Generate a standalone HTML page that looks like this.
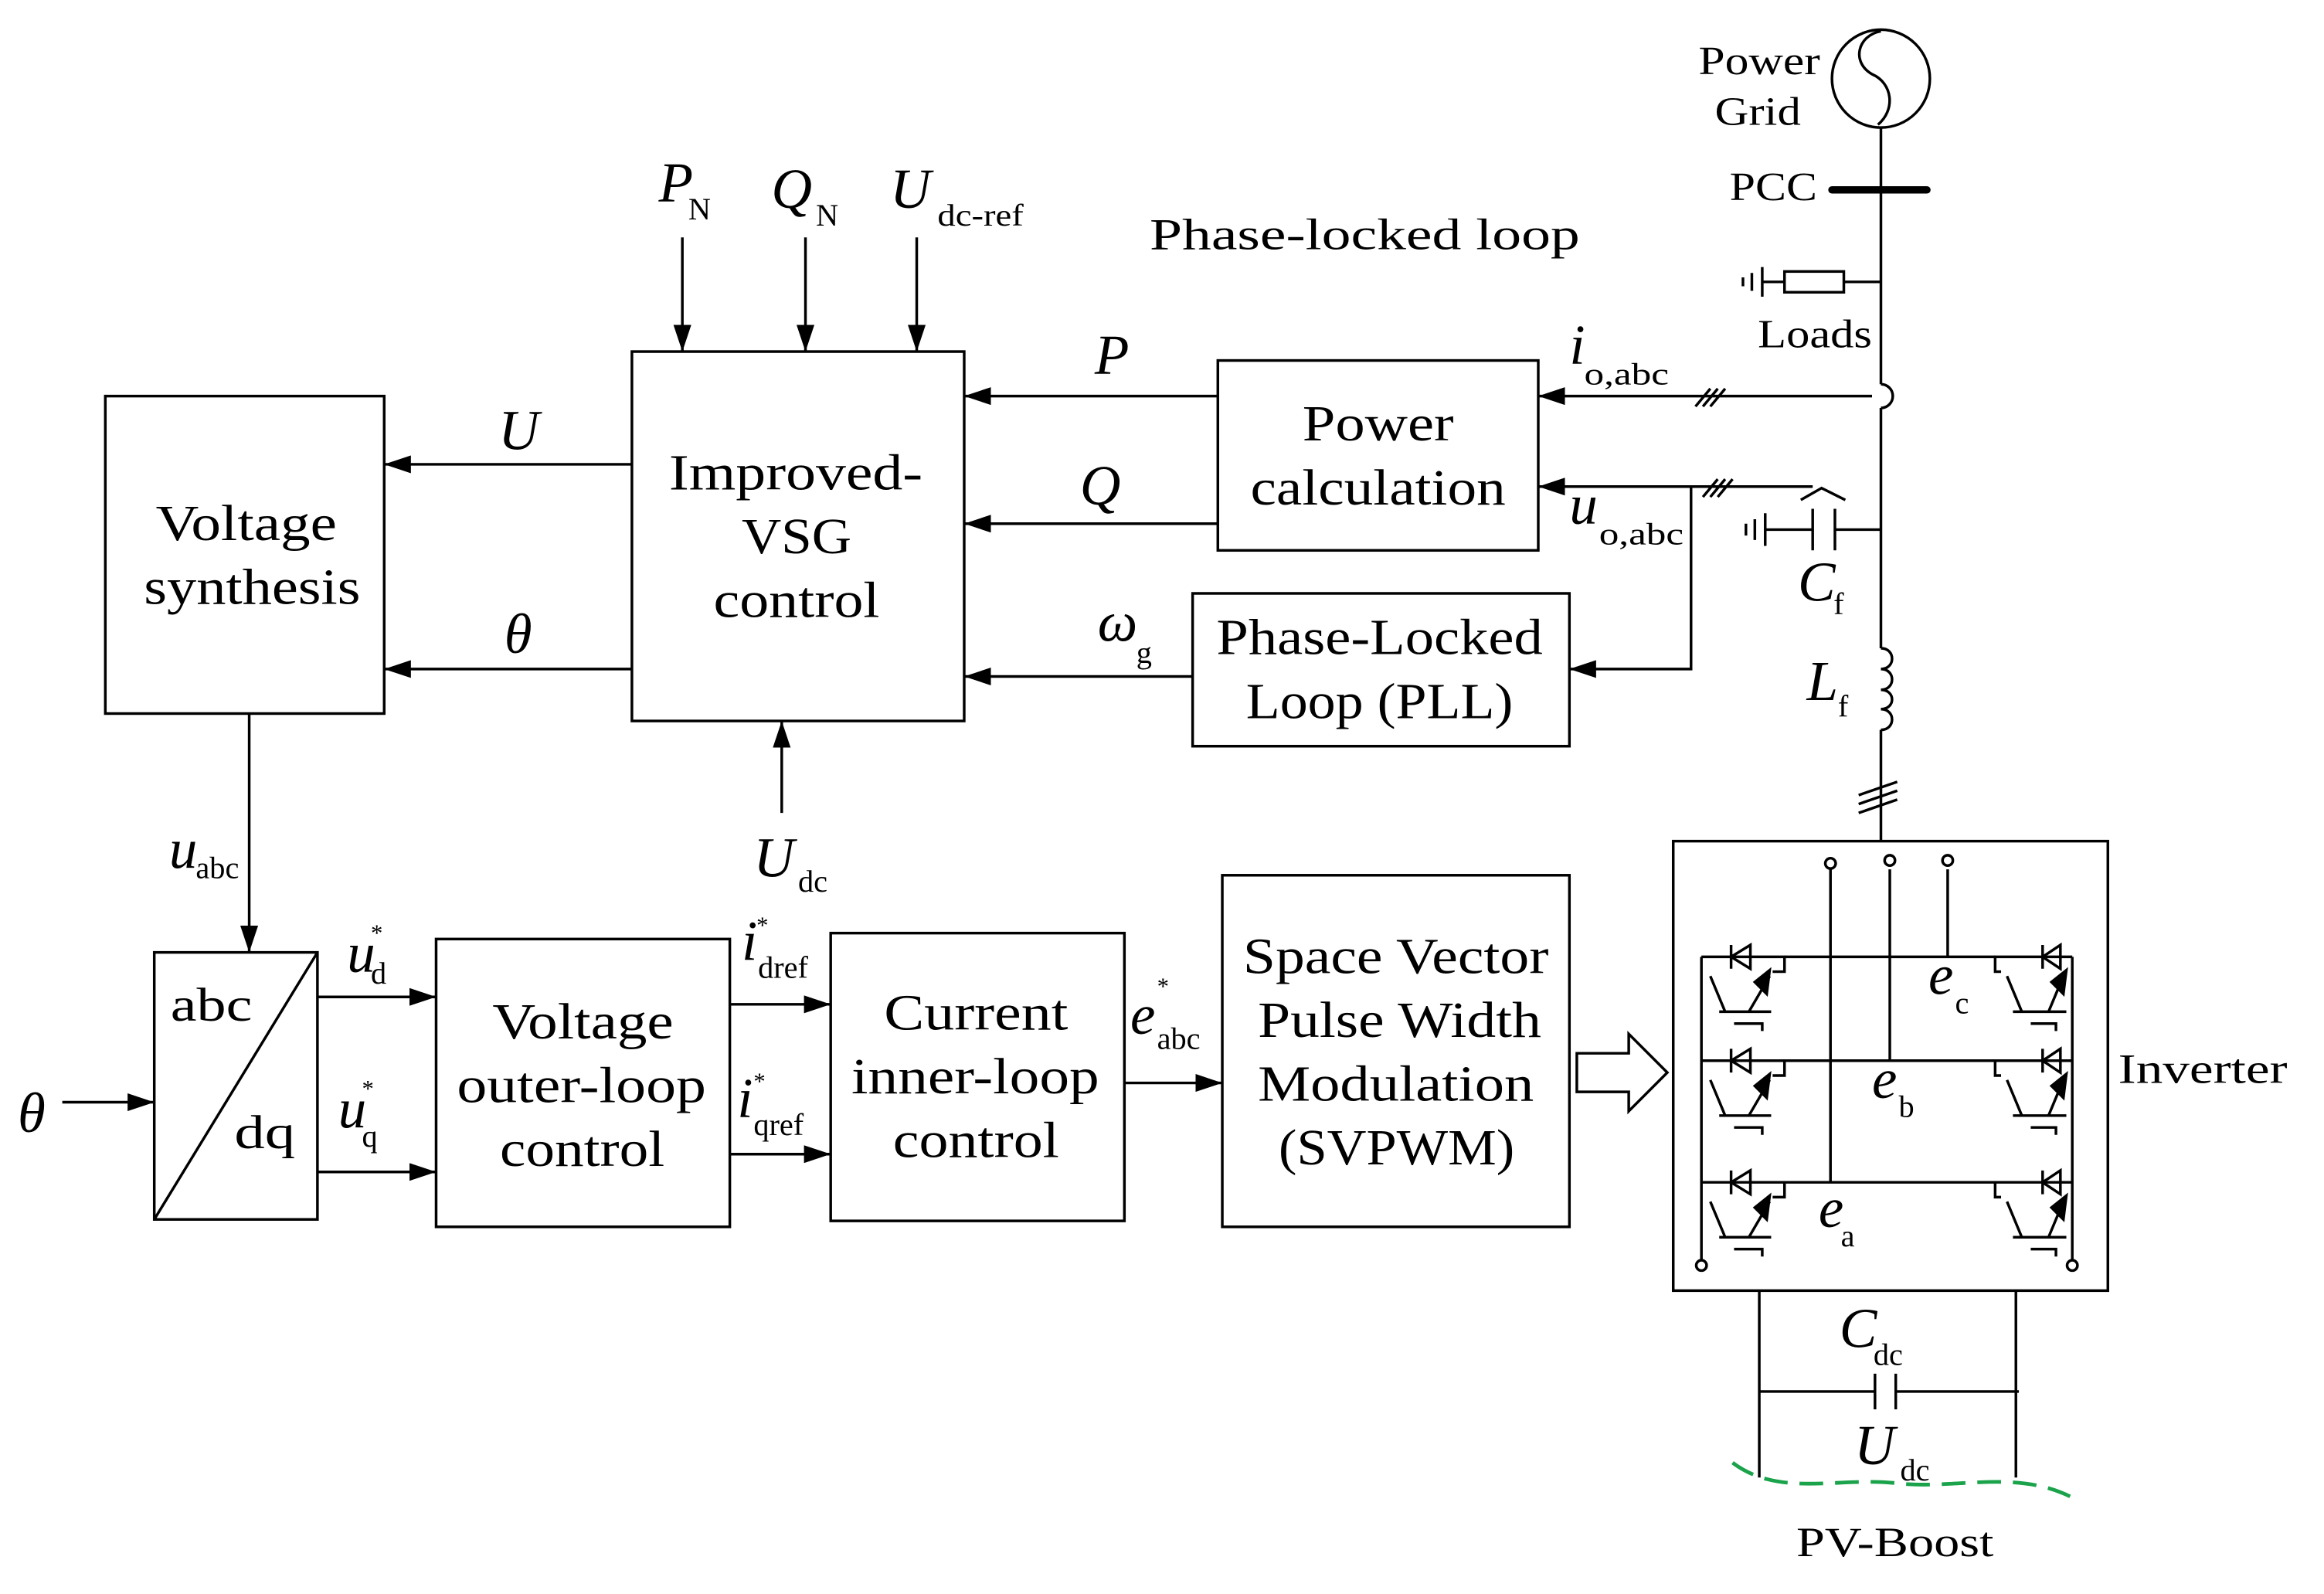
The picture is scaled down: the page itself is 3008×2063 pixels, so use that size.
<!DOCTYPE html>
<html><head><meta charset="utf-8"><style>
html,body{margin:0;padding:0;background:#fff;}
svg{display:block;}
text{font-family:"Liberation Serif",serif;fill:#000;}
.i{font-style:italic;}
</style></head><body>
<svg width="3008" height="2063" viewBox="0 0 1566.7 1074.5" xmlns="http://www.w3.org/2000/svg">
<defs>
<marker id="a" viewBox="0 0 18 12" refX="18" refY="6" markerWidth="18" markerHeight="12" markerUnits="userSpaceOnUse" orient="auto"><path d="M0,0 L18,6 L0,12 z" fill="#000"/></marker>
<g id="igL" fill="none" stroke="#000" stroke-width="1.8">
<path d="M0,0 H56 V10 H48"/>
<path d="M20,-8 V8 M20,0 L33,-8 V8 Z"/>
<path d="M6,13 L16,37 M32,37 L46,13"/>
<path d="M12,37 H47 M22,45 H41 V50"/>
<path d="M36,17 l10,-8 l-2,16 z" fill="#000"/>
</g>
<g id="igR" fill="none" stroke="#000" stroke-width="1.8">
<path d="M52,0 H0 V10 H4"/>
<path d="M32,-8 V8 M32,0 L44,-8 V8 Z"/>
<path d="M8,13 L18,37 M36,37 L46,13"/>
<path d="M12,37 H48 M24,45 H41 V50"/>
<path d="M38,17 l10,-8 l-2,16 z" fill="#000"/>
</g>
</defs>
<g fill="none" stroke="#000" stroke-width="1.8">
<rect x="71" y="267" width="188" height="214"/>
<rect x="426" y="237" width="224" height="249"/>
<rect x="821" y="243" width="216" height="128"/>
<rect x="804" y="400" width="254" height="103"/>
<rect x="104" y="642" width="110" height="180"/>
<line x1="104" y1="822" x2="214" y2="642"/>
<rect x="294" y="633" width="198" height="194"/>
<rect x="560" y="629" width="198" height="194"/>
<rect x="824" y="590" width="234" height="237"/>
<rect x="1128" y="567" width="293" height="303"/>
<g marker-end="url(#a)">
<line x1="460" y1="160" x2="460" y2="237"/>
<line x1="543" y1="160" x2="543" y2="237"/>
<line x1="618" y1="160" x2="618" y2="237"/>
<line x1="821" y1="267" x2="650" y2="267"/>
<line x1="821" y1="353" x2="650" y2="353"/>
<line x1="804" y1="456" x2="650" y2="456"/>
<line x1="426" y1="313" x2="259" y2="313"/>
<line x1="426" y1="451" x2="259" y2="451"/>
<line x1="527" y1="548" x2="527" y2="486"/>
<line x1="168" y1="481" x2="168" y2="642"/>
<line x1="42" y1="743" x2="104" y2="743"/>
<line x1="214" y1="672" x2="294" y2="672"/>
<line x1="214" y1="790" x2="294" y2="790"/>
<line x1="492" y1="677" x2="560" y2="677"/>
<line x1="492" y1="778" x2="560" y2="778"/>
<line x1="758" y1="730" x2="824" y2="730"/>
<line x1="1262" y1="267" x2="1037" y2="267"/>
<line x1="1222" y1="328" x2="1037" y2="328"/>
<polyline points="1140,328 1140,451 1058,451"/>
</g>
<path d="M1063,710 H1098 V697 L1124,723 L1098,749 V736 H1063 Z"/>
<path d="M1143,274 l10,-12 M1148,274 l10,-12 M1153,274 l10,-12"/>
<path d="M1148,335 l10,-12 M1153,335 l10,-12 M1158,335 l10,-12"/>
<path d="M1253,542 l26,-9 M1253,536 l26,-9 M1253,548 l26,-9"/>
<circle cx="1268" cy="53" r="33"/>
<path d="M1268,21 C1252,24 1248,42 1262,50 C1276,56 1278,74 1266,84"/>
<path d="M1268,86 V259 M1268,275 V437 M1268,492 V567"/>
<path d="M1268,259 A8,8 0 0 1 1268,275"/>
<line x1="1235" y1="128" x2="1299" y2="128" stroke-width="5" stroke-linecap="round"/>
<path d="M1268,190 H1243 M1203,190 H1188 M1188,180 V200 M1181,184 V196 M1175,187 V193"/>
<rect x="1203" y="183" width="40" height="14"/>
<path d="M1268,357 H1237 M1237,343 V371 M1222,343 V371 M1222,357 H1190 M1190,346 V368 M1183,350 V364 M1177,353 V361"/>
<path d="M1214,337 L1228,329 L1244,337"/>
<path d="M1268,437 c10,0 10,14 0,14 c10,0 10,14 0,14 c10,0 10,13 0,13 c10,0 10,14 0,14"/>
<path d="M1147,645 V850 M1397,645 V850"/>
<path d="M1203,645 H1345 M1203,715 H1345 M1203,797 H1345"/>
<path d="M1234,586 V797 M1274,586 V715 M1313,586 V645"/>
<circle cx="1234" cy="582" r="3.5"/><circle cx="1274" cy="580" r="3.5"/><circle cx="1313" cy="580" r="3.5"/>
<circle cx="1147" cy="853" r="3.5"/><circle cx="1397" cy="853" r="3.5"/>
<path d="M1186,870 V996 M1359,870 V996 M1186,938 H1264 M1278,938 H1361 M1264,926 V950 M1278,926 V950"/>
</g>
<use href="#igL" x="1147" y="645"/><use href="#igL" x="1147" y="715"/><use href="#igL" x="1147" y="797"/>
<use href="#igR" x="1345" y="645"/><use href="#igR" x="1345" y="715"/><use href="#igR" x="1345" y="797"/>
<path d="M1168,986 C1200,1010 1240,995 1280,1000 C1320,1004 1360,990 1398,1010" fill="none" stroke="#1aa34a" stroke-width="2.5" stroke-dasharray="16,8"/>

<g font-size="34" lengthAdjust="spacingAndGlyphs">
<text x="105" y="364" textLength="122" lengthAdjust="spacingAndGlyphs">Voltage</text><text x="97" y="407" textLength="146" lengthAdjust="spacingAndGlyphs">synthesis</text>
<text x="451" y="330" textLength="171" lengthAdjust="spacingAndGlyphs">Improved-</text><text x="500" y="373" textLength="74" lengthAdjust="spacingAndGlyphs">VSG</text><text x="481" y="416" textLength="112" lengthAdjust="spacingAndGlyphs">control</text>
<text x="878" y="297" textLength="102" lengthAdjust="spacingAndGlyphs">Power</text><text x="843" y="340" textLength="172" lengthAdjust="spacingAndGlyphs">calculation</text>
<text x="820" y="441" textLength="220" lengthAdjust="spacingAndGlyphs">Phase-Locked</text><text x="840" y="484" textLength="180" lengthAdjust="spacingAndGlyphs">Loop (PLL)</text>
<text x="332" y="700" textLength="122" lengthAdjust="spacingAndGlyphs">Voltage</text><text x="308" y="743" textLength="168" lengthAdjust="spacingAndGlyphs">outer-loop</text><text x="337" y="786" textLength="111" lengthAdjust="spacingAndGlyphs">control</text>
<text x="596" y="694" textLength="124" lengthAdjust="spacingAndGlyphs">Current</text><text x="574" y="737" textLength="167" lengthAdjust="spacingAndGlyphs">inner-loop</text><text x="602" y="780" textLength="112" lengthAdjust="spacingAndGlyphs">control</text>
<text x="838" y="656" textLength="206" lengthAdjust="spacingAndGlyphs">Space Vector</text><text x="848" y="699" textLength="191" lengthAdjust="spacingAndGlyphs">Pulse Width</text><text x="848" y="742" textLength="186" lengthAdjust="spacingAndGlyphs">Modulation</text><text x="862" y="785" textLength="159" lengthAdjust="spacingAndGlyphs">(SVPWM)</text>
<text x="115" y="688" font-size="32" textLength="55" lengthAdjust="spacingAndGlyphs">abc</text><text x="158" y="774" font-size="32" textLength="41" lengthAdjust="spacingAndGlyphs">dq</text>
</g>
<g font-size="30">
<text x="775" y="168" textLength="290" lengthAdjust="spacingAndGlyphs">Phase-locked loop</text>
<text x="1145" y="50" font-size="27" textLength="82" lengthAdjust="spacingAndGlyphs">Power</text><text x="1156" y="84" font-size="27" textLength="58" lengthAdjust="spacingAndGlyphs">Grid</text>
<text x="1166" y="135" font-size="27" textLength="59" lengthAdjust="spacingAndGlyphs">PCC</text>
<text x="1185" y="234" font-size="27" textLength="77" lengthAdjust="spacingAndGlyphs">Loads</text>
<text x="1428" y="730" font-size="28" textLength="114" lengthAdjust="spacingAndGlyphs">Inverter</text>
<text x="1211" y="1049" font-size="28" textLength="133" lengthAdjust="spacingAndGlyphs">PV-Boost</text>
</g>
<g font-size="38" class="i">
<text x="444" y="136" class="i">P</text><text x="520" y="140" class="i">Q</text><text x="600" y="140" class="i">U</text>
<text x="738" y="252" class="i">P</text><text x="728" y="340" class="i">Q</text><text x="740" y="432" class="i">ω</text>
<text x="336" y="303" class="i">U</text><text x="340" y="440" class="i">θ</text>
<text x="508" y="591" class="i">U</text><text x="114" y="585" class="i">u</text>
<text x="12" y="763" class="i">θ</text>
<text x="234" y="655" class="i">u</text><text x="228" y="760" class="i">u</text>
<text x="500" y="647" class="i">i</text><text x="497" y="753" class="i">i</text>
<text x="762" y="697" class="i">e</text>
<text x="1058" y="245" class="i">i</text><text x="1058" y="353" class="i">u</text>
<text x="1212" y="405" class="i">C</text><text x="1218" y="472" class="i">L</text>
<text x="1300" y="670" class="i">e</text><text x="1262" y="740" class="i">e</text><text x="1226" y="827" class="i">e</text>
<text x="1240" y="908" class="i">C</text><text x="1250" y="987" class="i">U</text>
</g>
<g font-size="21">
<text x="464" y="148">N</text><text x="550" y="152">N</text><text x="632" y="152" textLength="58" lengthAdjust="spacingAndGlyphs">dc-ref</text>
<text x="766" y="447">g</text><text x="538" y="601">dc</text><text x="132" y="592">abc</text>
<text x="250" y="663">d</text><text x="244" y="773">q</text>
<text x="511" y="659">dref</text><text x="508" y="765">qref</text>
<text x="780" y="707">abc</text>
<text x="1068" y="259" textLength="57" lengthAdjust="spacingAndGlyphs">o,abc</text><text x="1078" y="367" textLength="57" lengthAdjust="spacingAndGlyphs">o,abc</text>
<text x="1236" y="414">f</text><text x="1239" y="483">f</text>
<text x="1318" y="683">c</text><text x="1280" y="753">b</text><text x="1241" y="840">a</text>
<text x="1263" y="920">dc</text><text x="1281" y="998">dc</text>
<text x="250" y="634" font-size="16">*</text><text x="244" y="739" font-size="16">*</text>
<text x="510" y="629" font-size="16">*</text><text x="508" y="734" font-size="16">*</text>
<text x="780" y="670" font-size="16">*</text>
</g>
</svg>
</body></html>
